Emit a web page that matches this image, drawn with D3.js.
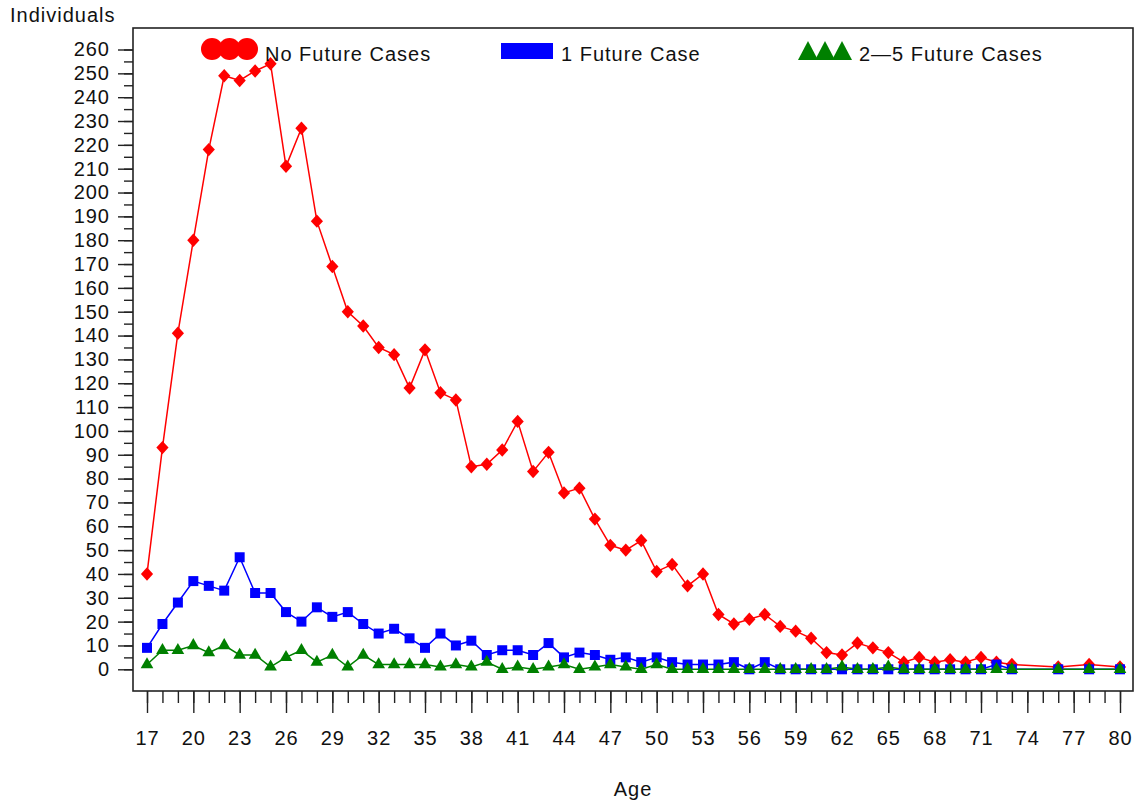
<!DOCTYPE html>
<html>
<head>
<meta charset="utf-8">
<script src="https://cdn.jsdelivr.net/npm/d3@7"></script>
<style>
  body { margin: 0; background: #fff; }
  svg text { font-family: "Liberation Sans", Arial, sans-serif; font-size: 20px; letter-spacing: 1px; fill: #111; }
</style>
</head>
<body>
<svg id="gfx" width="1135" height="802"></svg>
<script>
// ages that have observations (74, 75, 77, 79 have none)
var ages = [17, 18, 19, 20, 21, 22, 23, 24, 25, 26, 27, 28, 29, 30, 31, 32, 33, 34, 35, 36,
    37, 38, 39, 40, 41, 42, 43, 44, 45, 46, 47, 48, 49, 50, 51, 52, 53, 54, 55, 56,
    57, 58, 59, 60, 61, 62, 63, 64, 65, 66, 67, 68, 69, 70, 71, 72, 73, 76, 78, 80];

var noFuture = [40, 93, 141, 180, 218, 249, 247, 251, 254, 211, 227, 188, 169, 150, 144, 135, 132, 118, 134, 116,
    113, 85, 86, 92, 104, 83, 91, 74, 76, 63, 52, 50, 54, 41, 44, 35, 40, 23, 19, 21,
    23, 18, 16, 13, 7, 6, 11, 9, 7, 3, 5, 3, 4, 3, 5, 3, 2, 1, 2, 1];

var oneFuture = [9, 19, 28, 37, 35, 33, 47, 32, 32, 24, 20, 26, 22, 24, 19, 15, 17, 13, 9, 15,
    10, 12, 6, 8, 8, 6, 11, 5, 7, 6, 4, 5, 3, 5, 3, 2, 2, 2, 3, 0,
    3, 0, 0, 0, 0, 0, 0, 0, 0, 0, 0, 0, 0, 0, 0, 2, 0, 0, 0, 0];

var twoToFive = [2, 8, 8, 10, 7, 10, 6, 6, 1, 5, 8, 3, 6, 1, 6, 2, 2, 2, 2, 1,
    2, 1, 3, 0, 1, 0, 1, 2, 0, 1, 2, 1, 0, 2, 0, 0, 0, 0, 0, 0,
    0, 0, 0, 0, 0, 1, 0, 0, 1, 0, 0, 0, 0, 0, 0, 0, 0, 0, 0, 0];

var xMajorTicks = [17, 20, 23, 26, 29, 32, 35, 38, 41, 44, 47, 50, 53, 56, 59, 62, 65, 68, 71, 74, 77, 80];
var yMajorTicks = [0, 10, 20, 30, 40, 50, 60, 70, 80, 90, 100, 110, 120, 130,
    140, 150, 160, 170, 180, 190, 200, 210, 220, 230, 240, 250, 260];

var seriesNames = ["No Future Cases", "1 Future Case", "2\u20145 Future Cases"];
var seriesColors = ["#ff0000", "#0000ff", "#008000"];

var frame = { left: 133, right: 1133, top: 28, bottom: 691 };

function initialise() {
    var svg = d3.select("#gfx");

    var x = d3.scaleLinear().domain([17, 80]).range([147, 1120]);
    var y = d3.scaleLinear().domain([0, 260]).range([669.3, 49.5]);

    // plot frame
    svg.append("rect")
        .attr("x", frame.left).attr("y", frame.top)
        .attr("width", frame.right - frame.left).attr("height", frame.bottom - frame.top)
        .attr("fill", "none").attr("stroke", "#222").attr("stroke-width", 1.6);

    // y axis: minor then major ticks
    var minorY = d3.range(0, 261, 5);
    svg.append("g").attr("transform", "translate(" + frame.left + ",0)")
        .call(d3.axisLeft(y).tickValues(minorY).tickSize(9).tickFormat(""))
        .call(g => g.select(".domain").remove());
    svg.append("g").attr("transform", "translate(" + frame.left + ",0)")
        .call(d3.axisLeft(y).tickValues(yMajorTicks).tickSize(15).tickPadding(8))
        .call(g => g.select(".domain").remove());

    // x axis
    var minorX = d3.range(17, 81, 1);
    svg.append("g").attr("transform", "translate(0," + frame.bottom + ")")
        .call(d3.axisBottom(x).tickValues(minorX).tickSize(12).tickFormat(""))
        .call(g => g.select(".domain").remove());
    svg.append("g").attr("transform", "translate(0," + frame.bottom + ")")
        .call(d3.axisBottom(x).tickValues(xMajorTicks).tickSize(22).tickFormat(d3.format("d")))
        .call(g => g.select(".domain").remove())
        .call(g => g.selectAll("text").attr("y", 54).attr("dy", 0));

    svg.selectAll(".tick line").attr("stroke", "#222").attr("stroke-width", 1.4);
    svg.selectAll(".tick text").style("font-size", "20px").attr("fill", "#111")
        .style("font-family", "'Liberation Sans', Arial, sans-serif");

    svg.append("text").attr("x", 10).attr("y", 22).text("Individuals");
    svg.append("text").attr("x", 633).attr("y", 796).attr("text-anchor", "middle").text("Age");

    var allSeries = [noFuture, oneFuture, twoToFive];
    var line = d3.line().x((d, i) => x(ages[i])).y(d => y(d));

    var plot = svg.append("g").attr("class", "plot");
    allSeries.forEach(function(vals, s) {
        plot.append("path").datum(vals)
            .attr("d", line)
            .attr("fill", "none")
            .attr("stroke", seriesColors[s])
            .attr("stroke-width", 1.5);
    });

    var shapes = [
        d3.symbol().type(d3.symbolDiamond2).size(95),
        d3.symbol().type(d3.symbolSquare).size(100),
        d3.symbol().type(d3.symbolTriangle).size(70)
    ];
    allSeries.forEach(function(vals, s) {
        plot.append("g").selectAll("path")
            .data(vals)
            .enter().append("path")
            .attr("transform", (d, i) => "translate(" + x(ages[i]) + "," + y(d) + ")" + (s === 0 ? " scale(1,1.1)" : ""))
            .attr("d", shapes[s]())
            .attr("fill", seriesColors[s]);
    });

    // legend
    var legend = svg.append("g").attr("class", "legend");
    [212, 229.5, 247].forEach(function(cx) {
        legend.append("circle").attr("cx", cx).attr("cy", 49).attr("r", 11).attr("fill", seriesColors[0]);
    });
    legend.append("text").attr("x", 265).attr("y", 61).text(seriesNames[0]);

    legend.append("rect").attr("x", 501).attr("y", 43).attr("width", 52).attr("height", 16).attr("fill", seriesColors[1]);
    legend.append("text").attr("x", 561).attr("y", 61).text(seriesNames[1]);

    [808, 825, 842].forEach(function(ax) {
        legend.append("path")
            .attr("d", "M" + ax + ",41 L" + (ax + 10) + ",60 L" + (ax - 10) + ",60 Z")
            .attr("fill", seriesColors[2]);
    });
    legend.append("text").attr("x", 859).attr("y", 61).text(seriesNames[2]);
}

initialise();
</script>
</body>
</html>
